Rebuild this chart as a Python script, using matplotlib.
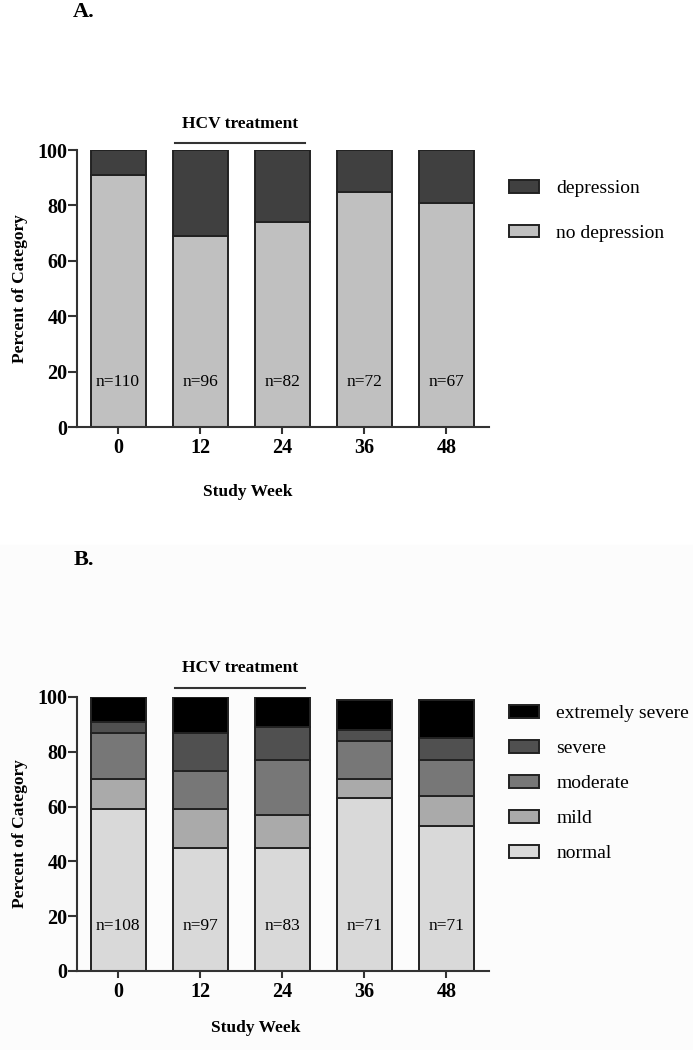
import matplotlib
matplotlib.use("Agg")
import matplotlib.pyplot as plt
from matplotlib.patches import Patch, Rectangle
import numpy as np

plt.rcParams['font.family'] = ['Liberation Serif', 'DejaVu Serif']

weeks = ["0", "12", "24", "36", "48"]

# Panel A
a_labels = ["no depression", "depression"]
a_no_dep = [91, 69, 74, 85, 81]
a_dep = [9, 31, 26, 15, 19]
a_n = ["n=110", "n=96", "n=82", "n=72", "n=67"]
a_colors = ["#c0c0c0", "#404040"]

# Panel B
b_labels = ["normal", "mild", "moderate", "severe", "extremely severe"]
b_normal = [59, 45, 45, 63, 53]
b_mild = [11, 14, 12, 7, 11]
b_moderate = [17, 14, 20, 14, 13]
b_severe = [4, 14, 12, 4, 8]
b_extreme = [9, 13, 11, 11, 14]
b_n = ["n=108", "n=97", "n=83", "n=71", "n=71"]
b_colors = ["#d9d9d9", "#aaaaaa", "#777777", "#505050", "#000000"]

W, H = 693, 1050
fig = plt.figure(figsize=(W / 100, H / 100), dpi=100)
fig.patches.append(Rectangle((0, 0), 1, 1 - 545 / H, transform=fig.transFigure,
                             color="#fcfcfc", zorder=-10))

edge = "#222222"
spine_c = "#333333"


def style_axes(ax):
    ax.set_xlim(-0.5, 4.52)
    ax.set_ylim(0, 100)
    ax.spines['top'].set_visible(False)
    ax.spines['right'].set_visible(False)
    for s in ['left', 'bottom']:
        ax.spines[s].set_linewidth(1.5)
        ax.spines[s].set_color(spine_c)
    ax.set_yticks([0, 20, 40, 60, 80, 100])
    ax.set_xticks(np.arange(len(weeks)))
    ax.set_xticklabels(weeks)
    ax.tick_params(axis='y', length=6.5, width=1.5, color=spine_c, labelsize=14.5, pad=0.5)
    ax.tick_params(axis='x', length=5, width=1.5, color=spine_c, labelsize=14.5, pad=3)
    for lab in ax.get_xticklabels() + ax.get_yticklabels():
        lab.set_fontweight('bold')
    ax.set_ylabel("Percent of Category", fontsize=12.5, fontweight='bold')
    ax.yaxis.set_label_coords(-0.119, 0.5)
    ax.patch.set_alpha(0)


def stacked(ax, series, colors, labels):
    x = np.arange(len(weeks))
    bottom = np.zeros(len(weeks))
    handles = []
    for vals, c, lab in zip(series, colors, labels):
        ax.bar(x, vals, bottom=bottom, width=0.67, color=c, edgecolor=edge,
               linewidth=1.4, zorder=2)
        bottom = bottom + np.array(vals)
        handles.append(Patch(facecolor=c, edgecolor=edge, linewidth=1.4, label=lab))
    return handles


def hcv(ax, yline, ytext):
    ax.plot([0.7, 2.28], [yline, yline], color=spine_c, lw=1.5, clip_on=False)
    ax.text(1.49, ytext, "HCV treatment", ha='center', va='center',
            fontsize=12.5, fontweight='bold', clip_on=False)


leg_kw = dict(loc='upper left', bbox_transform=fig.transFigure, frameon=False,
              fontsize=14, handlelength=1.55, handleheight=0.62, handletextpad=0.88,
              borderaxespad=0, borderpad=0)

# ---- Panel A ----
axA = fig.add_axes([77 / W, 1 - 427 / H, (489 - 77) / W, (427 - 150) / H])
hA = stacked(axA, [a_no_dep, a_dep], a_colors, a_labels)
style_axes(axA)
axA.set_xlabel("Study Week", fontsize=12.5, fontweight='bold')
axA.xaxis.set_label_coords(0.415, -0.206)
for i, t in enumerate(a_n):
    axA.text(i, 16.2, t, ha='center', va='center', fontsize=12.5, zorder=3)
hcv(axA, 102.6, 109.4)
axA.legend(handles=hA[::-1], bbox_to_anchor=(509 / W, 1 - 180 / H),
           labelspacing=1.42, **leg_kw)

# ---- Panel B ----
axB = fig.add_axes([77 / W, 1 - 971 / H, (489 - 77) / W, (971 - 697) / H])
hB = stacked(axB, [b_normal, b_mild, b_moderate, b_severe, b_extreme], b_colors, b_labels)
style_axes(axB)
axB.set_xlabel("Study Week", fontsize=12.5, fontweight='bold')
axB.xaxis.set_label_coords(0.435, -0.179)
for i, t in enumerate(b_n):
    axB.text(i, 16.4, t, ha='center', va='center', fontsize=12.5, zorder=3)
hcv(axB, 103.4, 110.6)
axB.legend(handles=hB[::-1], bbox_to_anchor=(509 / W, 1 - 705 / H),
           labelspacing=0.92, **leg_kw)

fig.text(84 / W, 1 - 12 / H, "A.", ha='center', va='center', fontsize=16, fontweight='bold')
fig.text(84 / W, 1 - 560 / H, "B.", ha='center', va='center', fontsize=16, fontweight='bold')

fig.savefig("out.png", dpi=100)
